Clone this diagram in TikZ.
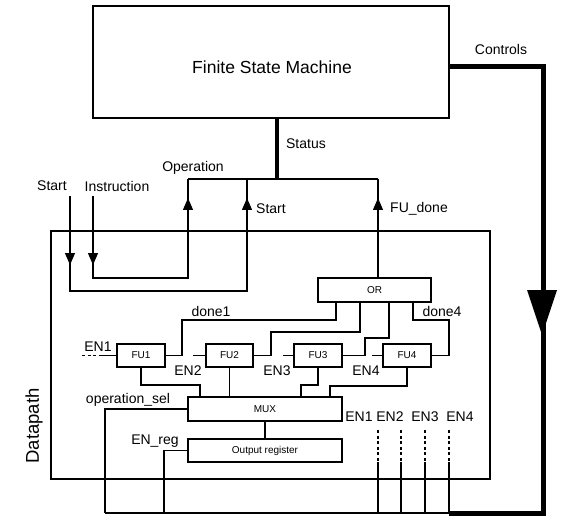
\documentclass[tikz,border=0pt]{standalone}
\usepackage{fontspec}
\setmainfont{Liberation Sans}
\usetikzlibrary{arrows.meta}
\begin{document}
\begin{tikzpicture}[x=1pt,y=-1pt,
  wire/.style={line width=1.2pt},
  arr/.style={line width=1.2pt,-{Triangle[width=10pt,length=12pt]}},
  bus/.style={line width=5pt},
  statusbus/.style={line width=4pt},
  box/.style={draw,line width=1.2pt,inner sep=0pt,font=\fontsize{10}{12}\selectfont},
  lbl/.style={inner sep=0pt,font=\fontsize{14}{16}\selectfont},
  dsh/.style={line width=1.2pt,dash pattern=on 3pt off 2.5pt}]
\useasboundingbox (0,0) rectangle (564,521);
% boxes
\node[draw,line width=1.3pt,minimum width=356pt,minimum height=112pt,inner sep=0pt] (fsm) at (271,62) {};
\node[lbl,font=\fontsize{17.5}{20}\selectfont] (fsmlabel) at (272,67) {Finite State Machine};
\node[draw,line width=1.2pt,minimum width=439pt,minimum height=248pt,inner sep=0pt] (dp) at (270.5,355) {};
\node[lbl,font=\fontsize{18.5}{20}\selectfont,rotate=90] (dplabel) at (34,426) {Datapath};
\node[box,minimum width=113pt,minimum height=24pt] (orb) at (374.5,290) {OR};
\node[box,minimum width=48pt,minimum height=23pt] (fu1) at (141,355.5) {FU1};
\node[box,minimum width=47pt,minimum height=23pt] (fu2) at (229.5,355.5) {FU2};
\node[box,minimum width=48pt,minimum height=23pt] (fu3) at (318,355.5) {FU3};
\node[box,minimum width=48pt,minimum height=23pt] (fu4) at (407,355.5) {FU4};
\node[box,minimum width=154pt,minimum height=24pt] (mux) at (265,409) {MUX};
\node[box,minimum width=154pt,minimum height=23pt] (reg) at (265,450.5) {Output register};
% labels
\node[lbl] (lcontrols) at (501,49) {Controls};
\node[lbl] (lstatus) at (306,144) {Status};
\node[lbl] (loperation) at (193,168) {Operation};
\node[lbl] (lstart1) at (52,186) {Start};
\node[lbl] (linstr) at (117,186) {Instruction};
\node[lbl] (lstart2) at (271,209) {Start};
\node[lbl] (lfudone) at (419,209) {FU\_done};
\node[lbl] (ldone1) at (211,311) {done1};
\node[lbl] (ldone4) at (442,311) {done4};
\node[lbl] (len1) at (98,347) {EN1};
\node[lbl] (len2) at (188,371) {EN2};
\node[lbl] (len3) at (277,371) {EN3};
\node[lbl] (len4) at (366,371) {EN4};
\node[lbl] (lopsel) at (128,400) {operation\_sel};
\node[lbl] (lenreg) at (155,441) {EN\_reg};
\node[lbl] (lb1) at (359,417) {EN1};
\node[lbl] (lb2) at (390,417) {EN2};
\node[lbl] (lb3) at (425,417) {EN3};
\node[lbl] (lb4) at (460,417) {EN4};
% coordinates
\coordinate (ctl) at (449,67);
\coordinate (cr) at (543,67);
\coordinate (cb) at (543,513);
\coordinate (b4) at (449,513);
\coordinate (bl) at (105,513);
\coordinate (st) at (277,179);
\coordinate (sl) at (188,179);
\coordinate (sr) at (378,179);
\coordinate (sm) at (247,179);
\coordinate (insin) at (93,196);
\coordinate (stin) at (70,196);
% controls bus
\draw[bus] (ctl) -- (cr) -- (cb) -- (b4);
\fill (527,290) -- (557,290) -- (542,335) -- cycle;
\draw[wire] (b4) -- (bl);
% status
\draw[statusbus] (fsm.south -| st) -- (st);
\draw[wire] (sl) -- (sr);
% operation / instruction
\draw[wire] (sl) -- (188,278) -- (93,278) -- (insin);
\draw[arr] (188,235) -- (188,198);
\draw[arr] (93,230) -- (93,265);
% start
\draw[wire] (sm) -- (247,291) -- (70,291) -- (stin);
\draw[arr] (247,235) -- (247,198);
\draw[arr] (70,230) -- (70,265);
% FU_done
\draw[wire] (orb.north -| sr) -- (sr);
\draw[arr] (378,240) -- (378,198);
% OR inputs
\draw[wire] (fu1.east) -- (182,355.5) -- (182,320) -- (336,320) -- (orb.south -| 336,0);
\draw[wire] (fu2.east) -- (271,355.5) -- (271,332) -- (360,332) -- (orb.south -| 360,0);
\draw[wire] (fu3.east) -- (365,355.5) -- (365,338) -- (389,338) -- (orb.south -| 389,0);
\draw[wire] (fu4.east) -- (449,355.5) -- (449,320) -- (413,320) -- (orb.south -| 413,0);
% EN inputs
\draw[dsh] (82,355.5) -- (100,355.5);
\draw[wire] (100,355.5) -- (fu1.west);
\draw[wire] (193,355.5) -- (fu2.west);
\draw[wire] (283,355.5) -- (fu3.west);
\draw[wire] (372,355.5) -- (fu4.west);
% FU to MUX
\draw[wire] (fu1.south) -- (141,385) -- (200,385) -- (mux.north -| 200,0);
\draw[wire] (fu2.south) -- (mux.north -| fu2.south);
\draw[wire] (fu3.south) -- (318,385) -- (301,385) -- (mux.north -| 301,0);
\draw[wire] (fu4.south) -- (407,386) -- (330,386) -- (mux.north -| 330,0);
\draw[wire] (mux.south) -- (reg.north);
% operation_sel, EN_reg
\draw[wire] (mux.west) -- (105,409) -- (bl);
\draw[wire] (reg.west) -- (164,450.5) -- (164,513);
% EN1..EN4 from bus
\foreach \x in {378,401,425,449}{
  \draw[dsh] (\x,430) -- (\x,462);
  \draw[wire] (\x,462) -- (\x,513);
}
\end{tikzpicture}
\end{document}
